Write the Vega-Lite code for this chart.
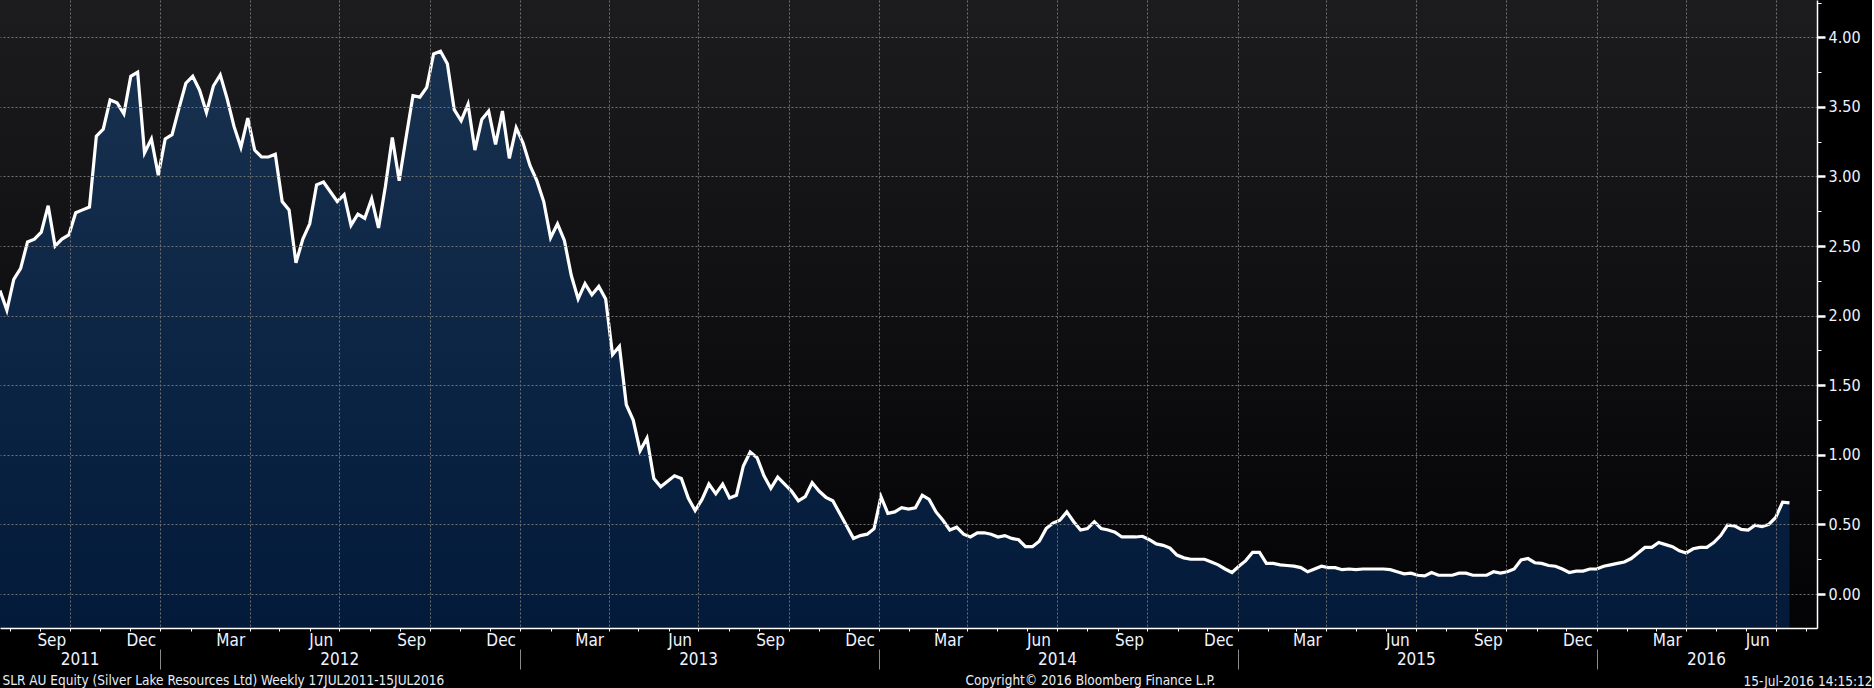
{
  "$schema": "https://vega.github.io/schema/vega-lite/v6.json",
  "width": 1817,
  "height": 628,
  "padding": 0,
  "background": "#000000",
  "config": {
    "view": {
      "stroke": null,
      "fill": {"gradient": "linear", "x1": 0, "y1": 0, "x2": 0, "y2": 1,
        "stops": [{"offset": 0, "color": "#1c1c1f"}, {"offset": 1, "color": "#030306"}]}
    },
    "font": "DejaVu Sans Condensed",
    "axis": {
      "labelFont": "DejaVu Sans Condensed",
      "titleFont": "DejaVu Sans Condensed",
      "labelColor": "#eef3ff",
      "titleColor": "#e8eef8",
      "titleFontWeight": "normal",
      "titleFontSize": 13.5,
      "labelFontSize": 17,
      "gridColor": "#707070",
      "gridDash": [2, 2],
      "gridWidth": 1,
      "domainColor": "#ffffff",
      "tickColor": "#ffffff",
      "labelOverlap": false,
      "labelFlush": false
    }
  },
  "data": {
    "values": [
      {"d": "2011-07-22", "v": 2.18}, {"d": "2011-07-29", "v": 2.04}, {"d": "2011-08-05", "v": 2.26}, {"d": "2011-08-12", "v": 2.34},
      {"d": "2011-08-19", "v": 2.53}, {"d": "2011-08-26", "v": 2.55}, {"d": "2011-09-02", "v": 2.60}, {"d": "2011-09-09", "v": 2.79},
      {"d": "2011-09-16", "v": 2.50}, {"d": "2011-09-23", "v": 2.55}, {"d": "2011-09-30", "v": 2.58}, {"d": "2011-10-07", "v": 2.74},
      {"d": "2011-10-14", "v": 2.76}, {"d": "2011-10-21", "v": 2.78}, {"d": "2011-10-28", "v": 3.29}, {"d": "2011-11-04", "v": 3.34},
      {"d": "2011-11-11", "v": 3.55}, {"d": "2011-11-18", "v": 3.53}, {"d": "2011-11-25", "v": 3.45}, {"d": "2011-12-02", "v": 3.72},
      {"d": "2011-12-09", "v": 3.75}, {"d": "2011-12-16", "v": 3.17}, {"d": "2011-12-23", "v": 3.27}, {"d": "2011-12-30", "v": 3.01},
      {"d": "2012-01-06", "v": 3.27}, {"d": "2012-01-13", "v": 3.30}, {"d": "2012-01-20", "v": 3.49}, {"d": "2012-01-27", "v": 3.67},
      {"d": "2012-02-03", "v": 3.72}, {"d": "2012-02-10", "v": 3.62}, {"d": "2012-02-17", "v": 3.46}, {"d": "2012-02-24", "v": 3.65},
      {"d": "2012-03-02", "v": 3.73}, {"d": "2012-03-09", "v": 3.56}, {"d": "2012-03-16", "v": 3.36}, {"d": "2012-03-23", "v": 3.21},
      {"d": "2012-03-30", "v": 3.42}, {"d": "2012-04-06", "v": 3.19}, {"d": "2012-04-13", "v": 3.14}, {"d": "2012-04-20", "v": 3.14},
      {"d": "2012-04-27", "v": 3.16}, {"d": "2012-05-04", "v": 2.82}, {"d": "2012-05-11", "v": 2.76}, {"d": "2012-05-18", "v": 2.38},
      {"d": "2012-05-25", "v": 2.55}, {"d": "2012-06-01", "v": 2.66}, {"d": "2012-06-08", "v": 2.94}, {"d": "2012-06-15", "v": 2.96},
      {"d": "2012-06-22", "v": 2.89}, {"d": "2012-06-29", "v": 2.82}, {"d": "2012-07-06", "v": 2.87}, {"d": "2012-07-13", "v": 2.65},
      {"d": "2012-07-20", "v": 2.73}, {"d": "2012-07-27", "v": 2.70}, {"d": "2012-08-03", "v": 2.84}, {"d": "2012-08-10", "v": 2.63},
      {"d": "2012-08-17", "v": 2.93}, {"d": "2012-08-24", "v": 3.28}, {"d": "2012-08-31", "v": 2.97}, {"d": "2012-09-07", "v": 3.28},
      {"d": "2012-09-14", "v": 3.58}, {"d": "2012-09-21", "v": 3.57}, {"d": "2012-09-28", "v": 3.64}, {"d": "2012-10-05", "v": 3.88},
      {"d": "2012-10-12", "v": 3.90}, {"d": "2012-10-19", "v": 3.81}, {"d": "2012-10-26", "v": 3.48}, {"d": "2012-11-02", "v": 3.40},
      {"d": "2012-11-09", "v": 3.52}, {"d": "2012-11-16", "v": 3.19}, {"d": "2012-11-23", "v": 3.41}, {"d": "2012-11-30", "v": 3.47},
      {"d": "2012-12-07", "v": 3.23}, {"d": "2012-12-14", "v": 3.47}, {"d": "2012-12-21", "v": 3.13}, {"d": "2012-12-28", "v": 3.35},
      {"d": "2013-01-04", "v": 3.24}, {"d": "2013-01-11", "v": 3.08}, {"d": "2013-01-18", "v": 2.97}, {"d": "2013-01-25", "v": 2.82},
      {"d": "2013-02-01", "v": 2.56}, {"d": "2013-02-08", "v": 2.66}, {"d": "2013-02-15", "v": 2.54}, {"d": "2013-02-22", "v": 2.29},
      {"d": "2013-03-01", "v": 2.12}, {"d": "2013-03-08", "v": 2.23}, {"d": "2013-03-15", "v": 2.15}, {"d": "2013-03-22", "v": 2.21},
      {"d": "2013-03-29", "v": 2.12}, {"d": "2013-04-05", "v": 1.72}, {"d": "2013-04-12", "v": 1.78}, {"d": "2013-04-19", "v": 1.36},
      {"d": "2013-04-26", "v": 1.25}, {"d": "2013-05-03", "v": 1.03}, {"d": "2013-05-10", "v": 1.12}, {"d": "2013-05-17", "v": 0.83},
      {"d": "2013-05-24", "v": 0.77}, {"d": "2013-05-31", "v": 0.81}, {"d": "2013-06-07", "v": 0.85}, {"d": "2013-06-14", "v": 0.83},
      {"d": "2013-06-21", "v": 0.69}, {"d": "2013-06-28", "v": 0.60}, {"d": "2013-07-05", "v": 0.68}, {"d": "2013-07-12", "v": 0.79},
      {"d": "2013-07-19", "v": 0.72}, {"d": "2013-07-26", "v": 0.79}, {"d": "2013-08-02", "v": 0.69}, {"d": "2013-08-09", "v": 0.71},
      {"d": "2013-08-16", "v": 0.92}, {"d": "2013-08-23", "v": 1.02}, {"d": "2013-08-30", "v": 0.98}, {"d": "2013-09-06", "v": 0.85},
      {"d": "2013-09-13", "v": 0.76}, {"d": "2013-09-20", "v": 0.84}, {"d": "2013-09-27", "v": 0.79}, {"d": "2013-10-04", "v": 0.74},
      {"d": "2013-10-11", "v": 0.67}, {"d": "2013-10-18", "v": 0.70}, {"d": "2013-10-25", "v": 0.80}, {"d": "2013-11-01", "v": 0.74},
      {"d": "2013-11-08", "v": 0.695}, {"d": "2013-11-15", "v": 0.67}, {"d": "2013-11-22", "v": 0.58}, {"d": "2013-11-29", "v": 0.49},
      {"d": "2013-12-06", "v": 0.40}, {"d": "2013-12-13", "v": 0.42}, {"d": "2013-12-20", "v": 0.43}, {"d": "2013-12-27", "v": 0.47},
      {"d": "2014-01-03", "v": 0.70}, {"d": "2014-01-10", "v": 0.58}, {"d": "2014-01-17", "v": 0.59}, {"d": "2014-01-24", "v": 0.62},
      {"d": "2014-01-31", "v": 0.61}, {"d": "2014-02-07", "v": 0.62}, {"d": "2014-02-14", "v": 0.71}, {"d": "2014-02-21", "v": 0.68},
      {"d": "2014-02-28", "v": 0.59}, {"d": "2014-03-07", "v": 0.53}, {"d": "2014-03-14", "v": 0.46}, {"d": "2014-03-21", "v": 0.48},
      {"d": "2014-03-28", "v": 0.43}, {"d": "2014-04-04", "v": 0.41}, {"d": "2014-04-11", "v": 0.44}, {"d": "2014-04-18", "v": 0.44},
      {"d": "2014-04-25", "v": 0.43}, {"d": "2014-05-02", "v": 0.41}, {"d": "2014-05-09", "v": 0.42}, {"d": "2014-05-16", "v": 0.40},
      {"d": "2014-05-23", "v": 0.39}, {"d": "2014-05-30", "v": 0.34}, {"d": "2014-06-06", "v": 0.34}, {"d": "2014-06-13", "v": 0.38},
      {"d": "2014-06-20", "v": 0.47}, {"d": "2014-06-27", "v": 0.51}, {"d": "2014-07-04", "v": 0.53}, {"d": "2014-07-11", "v": 0.59},
      {"d": "2014-07-18", "v": 0.52}, {"d": "2014-07-25", "v": 0.46}, {"d": "2014-08-01", "v": 0.47}, {"d": "2014-08-08", "v": 0.52},
      {"d": "2014-08-15", "v": 0.47}, {"d": "2014-08-22", "v": 0.46}, {"d": "2014-08-29", "v": 0.445}, {"d": "2014-09-05", "v": 0.41},
      {"d": "2014-09-12", "v": 0.41}, {"d": "2014-09-19", "v": 0.41}, {"d": "2014-09-26", "v": 0.415}, {"d": "2014-10-03", "v": 0.39},
      {"d": "2014-10-10", "v": 0.36}, {"d": "2014-10-17", "v": 0.35}, {"d": "2014-10-24", "v": 0.33}, {"d": "2014-10-31", "v": 0.28},
      {"d": "2014-11-07", "v": 0.26}, {"d": "2014-11-14", "v": 0.25}, {"d": "2014-11-21", "v": 0.25}, {"d": "2014-11-28", "v": 0.25},
      {"d": "2014-12-05", "v": 0.23}, {"d": "2014-12-12", "v": 0.21}, {"d": "2014-12-19", "v": 0.18}, {"d": "2014-12-26", "v": 0.155},
      {"d": "2015-01-02", "v": 0.20}, {"d": "2015-01-09", "v": 0.24}, {"d": "2015-01-16", "v": 0.30}, {"d": "2015-01-23", "v": 0.30},
      {"d": "2015-01-30", "v": 0.22}, {"d": "2015-02-06", "v": 0.22}, {"d": "2015-02-13", "v": 0.21}, {"d": "2015-02-20", "v": 0.205},
      {"d": "2015-02-27", "v": 0.20}, {"d": "2015-03-06", "v": 0.19}, {"d": "2015-03-13", "v": 0.16}, {"d": "2015-03-20", "v": 0.18},
      {"d": "2015-03-27", "v": 0.20}, {"d": "2015-04-03", "v": 0.19}, {"d": "2015-04-10", "v": 0.19}, {"d": "2015-04-17", "v": 0.175},
      {"d": "2015-04-24", "v": 0.18}, {"d": "2015-05-01", "v": 0.175}, {"d": "2015-05-08", "v": 0.18}, {"d": "2015-05-15", "v": 0.18},
      {"d": "2015-05-22", "v": 0.18}, {"d": "2015-05-29", "v": 0.18}, {"d": "2015-06-05", "v": 0.175}, {"d": "2015-06-12", "v": 0.16},
      {"d": "2015-06-19", "v": 0.145}, {"d": "2015-06-26", "v": 0.15}, {"d": "2015-07-03", "v": 0.135}, {"d": "2015-07-10", "v": 0.13},
      {"d": "2015-07-17", "v": 0.155}, {"d": "2015-07-24", "v": 0.135}, {"d": "2015-07-31", "v": 0.135}, {"d": "2015-08-07", "v": 0.135},
      {"d": "2015-08-14", "v": 0.15}, {"d": "2015-08-21", "v": 0.15}, {"d": "2015-08-28", "v": 0.135}, {"d": "2015-09-04", "v": 0.135},
      {"d": "2015-09-11", "v": 0.135}, {"d": "2015-09-18", "v": 0.16}, {"d": "2015-09-25", "v": 0.15}, {"d": "2015-10-02", "v": 0.16},
      {"d": "2015-10-09", "v": 0.18}, {"d": "2015-10-16", "v": 0.245}, {"d": "2015-10-23", "v": 0.255}, {"d": "2015-10-30", "v": 0.225},
      {"d": "2015-11-06", "v": 0.22}, {"d": "2015-11-13", "v": 0.205}, {"d": "2015-11-20", "v": 0.20}, {"d": "2015-11-27", "v": 0.18},
      {"d": "2015-12-04", "v": 0.155}, {"d": "2015-12-11", "v": 0.165}, {"d": "2015-12-18", "v": 0.165}, {"d": "2015-12-25", "v": 0.18},
      {"d": "2016-01-01", "v": 0.18}, {"d": "2016-01-08", "v": 0.20}, {"d": "2016-01-15", "v": 0.21}, {"d": "2016-01-22", "v": 0.22},
      {"d": "2016-01-29", "v": 0.23}, {"d": "2016-02-05", "v": 0.255}, {"d": "2016-02-12", "v": 0.295}, {"d": "2016-02-19", "v": 0.335},
      {"d": "2016-02-26", "v": 0.335}, {"d": "2016-03-04", "v": 0.37}, {"d": "2016-03-11", "v": 0.355}, {"d": "2016-03-18", "v": 0.34},
      {"d": "2016-03-25", "v": 0.31}, {"d": "2016-04-01", "v": 0.295}, {"d": "2016-04-08", "v": 0.325}, {"d": "2016-04-15", "v": 0.335},
      {"d": "2016-04-22", "v": 0.335}, {"d": "2016-04-29", "v": 0.37}, {"d": "2016-05-06", "v": 0.42}, {"d": "2016-05-13", "v": 0.495},
      {"d": "2016-05-20", "v": 0.49}, {"d": "2016-05-27", "v": 0.465}, {"d": "2016-06-03", "v": 0.46}, {"d": "2016-06-10", "v": 0.495},
      {"d": "2016-06-17", "v": 0.485}, {"d": "2016-06-24", "v": 0.50}, {"d": "2016-07-01", "v": 0.55}, {"d": "2016-07-08", "v": 0.66},
      {"d": "2016-07-15", "v": 0.655}
    ]
  },
  "layer": [
    {
      "mark": {
        "type": "area",
        "clip": true,
        "color": {"gradient": "linear", "x1": 0, "y1": 0, "x2": 0, "y2": 1,
          "stops": [{"offset": 0, "color": "#17314f"}, {"offset": 1, "color": "#031a3b"}]}
      },
      "encoding": {
        "x": {
          "field": "d",
          "type": "temporal",
          "scale": {
            "type": "utc",
            "domain": [{"year": 2011, "month": 7, "date": 22, "utc": true}, {"year": 2016, "month": 8, "date": 12, "utc": true}]
          },
          "axis": {
            "orient": "bottom",
            "zindex": 1,
            "tickCount": {"interval": "month", "step": 1},
            "labelExpr": "utcmonth(datum.value) % 3 == 2 ? utcFormat(datum.value, '%b') : ''",
            "labelFontSize": {"condition": {"test": "utcmonth(datum.value) % 3 == 2", "value": 17}, "value": 0},
            "labelOffset": 11,
            "labelBaseline": "middle",
            "labelPadding": 9,
            "tickSize": 3,
            "domainWidth": 1.5,
            "grid": true,
            "gridOpacity": {"condition": {"test": "utcmonth(datum.value) % 3 == 0", "value": 1}, "value": 0},
            "title": "15-Jul-2016 14:15:12",
            "titleX": 1872,
            "titleAlign": "right",
            "titlePadding": 26
          }
        },
        "y": {
          "field": "v",
          "type": "quantitative",
          "scale": {"domain": [-0.244, 4.268], "nice": false, "zero": false},
          "axis": {
            "orient": "right",
            "zindex": 1,
            "values": [0, 0.25, 0.5, 0.75, 1, 1.25, 1.5, 1.75, 2, 2.25, 2.5, 2.75, 3, 3.25, 3.5, 3.75, 4, 4.25],
            "labelExpr": "datum.value % 0.5 == 0 ? format(datum.value, '.2f') : ''",
            "labelFontSize": {"condition": {"test": "datum.value % 0.5 == 0", "value": 16}, "value": 0},
            "labelBaseline": "middle",
            "labelPadding": 3,
            "tickSize": {"condition": {"test": "datum.value % 0.5 == 0", "value": 8}, "value": 4},
            "tickWidth": {"condition": {"test": "datum.value % 0.5 == 0", "value": 2.5}, "value": 1},
            "domainWidth": 1.5,
            "grid": true,
            "gridOpacity": {"condition": {"test": "datum.value % 0.5 == 0", "value": 1}, "value": 0},
            "title": null
          }
        },
        "y2": {"datum": -0.244}
      }
    },
    {
      "mark": {"type": "line", "color": "#ffffff", "strokeWidth": 3.2, "clip": true},
      "encoding": {
        "x": {
          "field": "d",
          "type": "temporal",
          "axis": {
            "orient": "bottom",
            "values": [
              {"year": 2011, "month": 10, "date": 11, "utc": true},
              {"year": 2012, "month": 7, "date": 1, "utc": true},
              {"year": 2013, "month": 7, "date": 1, "utc": true},
              {"year": 2014, "month": 7, "date": 1, "utc": true},
              {"year": 2015, "month": 7, "date": 1, "utc": true},
              {"year": 2016, "month": 4, "date": 21, "utc": true}
            ],
            "labelExpr": "utcFormat(datum.value, '%Y')",
            "ticks": false,
            "tickSize": 0,
            "domain": false,
            "grid": false,
            "labelBaseline": "middle",
            "labelPadding": 31,
            "title": "SLR AU Equity (Silver Lake Resources Ltd)  Weekly 17JUL2011-15JUL2016",
            "titleAnchor": "start",
            "titleAlign": "left",
            "titleX": 2,
            "titlePadding": 6
          }
        },
        "y": {"field": "v", "type": "quantitative", "axis": null}
      }
    },
    {
      "mark": {"type": "line", "strokeWidth": 0, "opacity": 0, "clip": true},
      "encoding": {
        "x": {
          "field": "d",
          "type": "temporal",
          "axis": {
            "orient": "bottom",
            "offset": 21,
            "values": [
              {"year": 2012, "month": 1, "date": 1, "utc": true},
              {"year": 2013, "month": 1, "date": 1, "utc": true},
              {"year": 2014, "month": 1, "date": 1, "utc": true},
              {"year": 2015, "month": 1, "date": 1, "utc": true},
              {"year": 2016, "month": 1, "date": 1, "utc": true}
            ],
            "labels": false,
            "domain": false,
            "grid": false,
            "tickSize": 20,
            "tickColor": "#8a8a8a",
            "tickWidth": 1,
            "title": "Copyright© 2016 Bloomberg Finance L.P.",
            "titleX": 1090,
            "titleAlign": "center",
            "titlePadding": 4
          }
        },
        "y": {"field": "v", "type": "quantitative", "axis": null}
      }
    }
  ],
  "resolve": {"axis": {"x": "independent", "y": "independent"}}
}
